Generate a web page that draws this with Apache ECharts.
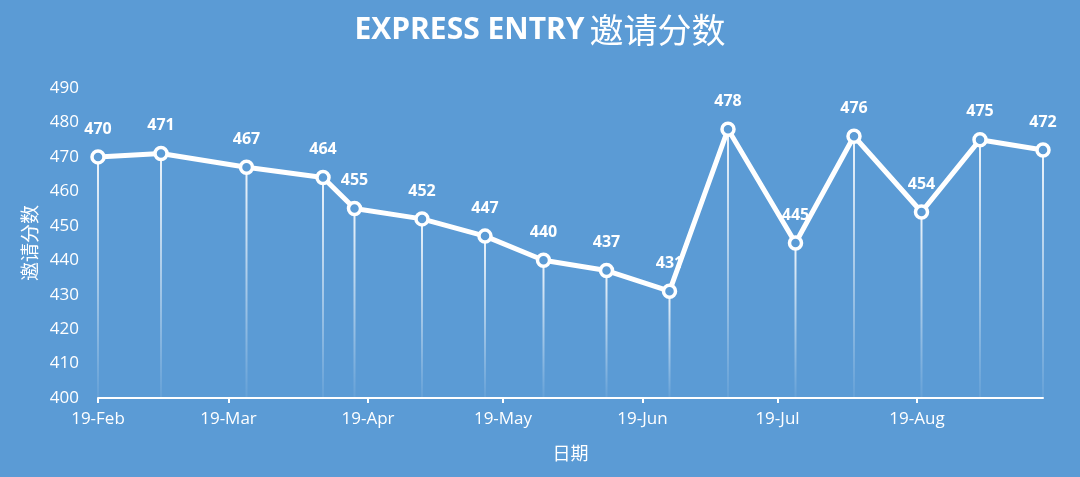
<!DOCTYPE html>
<html>
<head>
<meta charset="utf-8">
<script src="https://cdn.jsdelivr.net/npm/echarts@6/dist/echarts.min.js"></script>
<style>
  html, body { margin: 0; padding: 0; background: #5b9bd5; }
  #main { width: 1080px; height: 477px; }
</style>
</head>
<body>
<div id="main"></div>
<script>
// draw dates and scores (2020)
var drawDates = ['2020-02-19', '2020-03-04', '2020-03-23', '2020-04-09', '2020-04-16', '2020-05-01',
  '2020-05-15', '2020-05-28', '2020-06-11', '2020-06-25', '2020-07-08', '2020-07-23',
  '2020-08-05', '2020-08-20', '2020-09-02', '2020-09-16'];
var scores = [470, 471, 467, 464, 455, 452, 447, 440, 437, 431, 478, 445, 476, 454, 475, 472];

// x tick positions and their labels
var tickDates = ['2020-02-19', '2020-03-19', '2020-04-19', '2020-05-19', '2020-06-19', '2020-07-19', '2020-08-19'];
var tickLabels = ['19-Feb', '19-Mar', '19-Apr', '19-May', '19-Jun', '19-Jul', '19-Aug'];

var Y_MIN = 400, Y_MAX = 490;

// dates -> ms timestamps (UTC) for a plain value axis
function toTime(s) {
  var p = s.split('-');
  return Date.UTC(+p[0], +p[1] - 1, +p[2]);
}

var tickValues = tickDates.map(toTime);
var labelOf = {};
for (var i = 0; i < tickValues.length; i++) labelOf[tickValues[i]] = tickLabels[i];

var points = [];
for (var i = 0; i < drawDates.length; i++) points.push([toTime(drawDates[i]), scores[i]]);

var chart = echarts.init(document.getElementById('main'));

var option = {
  backgroundColor: '#5b9bd5',
  title: {
    text: '{a|EXPRESS ENTRY} {b|邀请分数}',
    left: 'center',
    top: 8,
    textStyle: {
      rich: {
        a: { fontFamily: 'Open Sans', fontWeight: 'bold', fontSize: 30, color: '#fff' },
        b: { fontFamily: 'Noto Sans CJK SC', fontWeight: 'normal', fontSize: 34, color: '#fff' }
      }
    }
  },
  grid: { left: 98, right: 37, top: 88, bottom: 79 },
  xAxis: {
    type: 'value',
    min: toTime('2020-02-19'),
    max: toTime('2020-09-16'),
    name: '日期',
    nameLocation: 'middle',
    nameGap: 46,
    nameTextStyle: { color: '#fff', fontSize: 18, fontFamily: 'Noto Sans CJK SC' },
    axisLine: { lineStyle: { color: '#fff', width: 2 } },
    axisTick: { show: true, customValues: tickValues, length: 5, lineStyle: { color: '#fff', width: 2 } },
    axisLabel: {
      customValues: tickValues,
      color: '#fff',
      fontSize: 17,
      fontFamily: 'Open Sans',
      margin: 13,
      formatter: function (v) { return labelOf[v] || ''; }
    },
    splitLine: { show: false }
  },
  yAxis: {
    type: 'value',
    min: Y_MIN,
    max: Y_MAX,
    interval: 10,
    name: '邀请分数',
    nameLocation: 'middle',
    nameGap: 52,
    nameRotate: 90,
    nameTextStyle: { color: '#fff', fontSize: 19, fontFamily: 'Noto Sans CJK SC' },
    axisLine: { show: false },
    axisTick: { show: false },
    axisLabel: { color: '#fff', fontSize: 17, fontFamily: 'Open Sans', margin: 19 },
    splitLine: { show: false }
  },
  series: [
    {
      // thin fading drop lines from each point down to the axis
      type: 'custom',
      data: points,
      z: 1,
      silent: true,
      renderItem: function (params, api) {
        var top = api.coord([api.value(0), api.value(1)]);
        var bottom = api.coord([api.value(0), Y_MIN]);
        return {
          type: 'line',
          shape: { x1: top[0], y1: top[1], x2: bottom[0], y2: bottom[1] },
          style: {
            stroke: new echarts.graphic.LinearGradient(0, top[1], 0, bottom[1], [
              { offset: 0, color: 'rgba(255,255,255,0.9)' },
              { offset: 1, color: 'rgba(255,255,255,0.06)' }
            ], true),
            lineWidth: 2
          }
        };
      }
    },
    {
      type: 'line',
      data: points,
      z: 3,
      symbol: 'circle',
      symbolSize: 12,
      lineStyle: { color: '#fff', width: 5 },
      itemStyle: { color: '#5b9bd5', borderColor: '#fff', borderWidth: 3.5 },
      label: {
        show: true,
        position: 'top',
        distance: 12,
        color: '#fff',
        fontSize: 16,
        fontWeight: 'bold',
        fontFamily: 'Open Sans',
        formatter: function (p) { return p.value[1]; }
      }
    }
  ]
};

chart.setOption(option);
</script>
</body>
</html>
